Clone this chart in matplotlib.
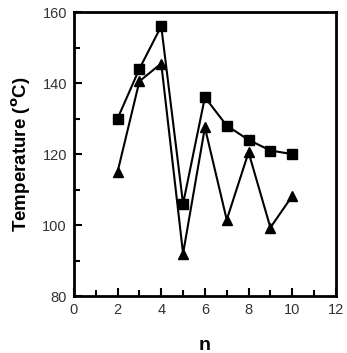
import matplotlib
matplotlib.use("Agg")
import matplotlib.pyplot as plt
from matplotlib.ticker import MultipleLocator

n = [2, 3, 4, 5, 6, 7, 8, 9, 10]
temp_square = [130, 144, 156, 106, 136, 128, 124, 121, 120]
temp_triangle = [115, 140.5, 145.5, 92, 127.5, 101.5, 120.5, 99.3, 108.2]

plt.rcParams['font.family'] = ['Liberation Sans', 'DejaVu Sans']
fig = plt.figure(figsize=(3.47, 3.53), dpi=100)
ax = fig.add_axes([0.213, 0.161, 0.755, 0.805])

ax.plot(n, temp_square, color='black', marker='s', markersize=7, linewidth=1.5)
ax.plot(n, temp_triangle, color='black', marker='^', markersize=7.5, linewidth=1.5)

ax.set_xlim(0, 12)
ax.set_ylim(80, 160)
ax.xaxis.set_major_locator(MultipleLocator(2))
ax.xaxis.set_minor_locator(MultipleLocator(1))
ax.yaxis.set_major_locator(MultipleLocator(20))
ax.yaxis.set_minor_locator(MultipleLocator(10))
ax.tick_params(which='both', direction='in', top=False, right=False, width=1.5,
               labelsize=10.5, labelcolor='#333333', pad=5)
ax.tick_params(which='major', length=6)
ax.tick_params(which='minor', length=4)
for s in ax.spines.values():
    s.set_linewidth(2)

ax.set_xlabel('n', fontsize=14, fontweight='bold', labelpad=14)
ax.set_ylabel('Temperature ($\\mathbf{^{o}}$C)', fontsize=13.5, fontweight='bold', labelpad=7)

fig.savefig('out.png', dpi=100)
